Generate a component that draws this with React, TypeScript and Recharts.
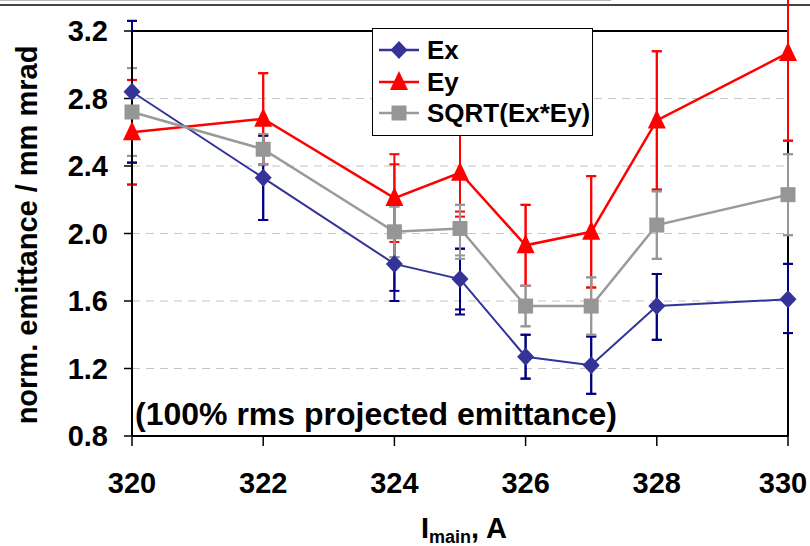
import React from 'react';
import {
  LineChart,
  Line,
  XAxis,
  YAxis,
  CartesianGrid,
  ErrorBar,
  ReferenceLine,
} from 'recharts';

const FONT = '"Liberation Sans", Arial, Helvetica, sans-serif';

// main coil current, A
const currents = [320, 322, 324, 325, 326, 327, 328, 330];

// normalized emittance, mm mrad
const ex = [2.84, 2.33, 1.82, 1.73, 1.27, 1.22, 1.57, 1.61];
const ey = [2.6, 2.68, 2.21, 2.36, 1.93, 2.01, 2.67, 3.07];
const sq = [2.72, 2.5, 2.01, 2.03, 1.57, 1.57, 2.05, 2.23];

// error bars [minus, plus]; the second set gives the inner caps
const exErr = [[0.42, 0.42], [0.25, 0.25], [0.22, 0.22], [0.21, 0.18], [0.13, 0.13], [0.17, 0.17], [0.2, 0.19], [0.2, 0.21]];
const exErr2 = [[0.42, 0.42], [0.25, 0.25], [0.16, 0.16], [0.18, 0.18], [0.13, 0.13], [0.17, 0.17], [0.2, 0.19], [0.2, 0.21]];
const eyErr = [[0.31, 0.31], [0.27, 0.27], [0.26, 0.26], [0.26, 0.26], [0.24, 0.24], [0.33, 0.33], [0.41, 0.41], [0.52, 0.52]];
const eyErr2 = [[0.31, 0.31], [0.27, 0.27], [0.2, 0.2], [0.23, 0.23], [0.24, 0.24], [0.33, 0.33], [0.41, 0.41], [0.52, 0.52]];
const sqErr = [[0.26, 0.26], [0.09, 0.09], [0.15, 0.15], [0.18, 0.14], [0.12, 0.12], [0.17, 0.17], [0.2, 0.2], [0.24, 0.24]];
const sqErr2 = [[0.26, 0.26], [0.09, 0.09], [0.15, 0.15], [0.16, 0.14], [0.12, 0.12], [0.17, 0.17], [0.2, 0.2], [0.24, 0.24]];

const xTicks = [320, 322, 324, 326, 328, 330];
const yTicks = [0.8, 1.2, 1.6, 2.0, 2.4, 2.8, 3.2];

const data = currents.map((c, i) => ({
  current: c,
  ex: ex[i],
  ey: ey[i],
  sq: sq[i],
  exErr: exErr[i],
  exErr2: exErr2[i],
  eyErr: eyErr[i],
  eyErr2: eyErr2[i],
  sqErr: sqErr[i],
  sqErr2: sqErr2[i],
}));

const BLUE = '#333399';
const NAVY = '#000080';
const RED = '#ff0000';
const GREY_LINE = '#9a9a9a';
const GREY = '#969696';

const diamond = (cx: number, cy: number) =>
  `M${cx},${cy - 9} L${cx + 8.5},${cy} L${cx},${cy + 9} L${cx - 8.5},${cy} Z`;
const triangle = (cx: number, cy: number) =>
  `M${cx},${cy - 11} L${cx + 9},${cy + 8} L${cx - 9},${cy + 8} Z`;
const square = (cx: number, cy: number) =>
  `M${cx - 7.5},${cy - 7.5} h15 v15 h-15 Z`;

const makeDot = (shape: (cx: number, cy: number) => string, fill: string) => (props: any) => {
  const { cx, cy, index } = props;
  if (cx == null || cy == null) return <g key={index} />;
  return <path key={index} d={shape(cx, cy)} fill={fill} />;
};

const legendItems = [
  { label: 'Ex', stroke: BLUE, fill: BLUE, shape: diamond },
  { label: 'Ey', stroke: RED, fill: RED, shape: triangle },
  { label: 'SQRT(Ex*Ey)', stroke: GREY_LINE, fill: GREY, shape: square },
];

const tickStyle = { fill: '#000', fontSize: 29, fontWeight: 700, fontFamily: FONT };

// x tick label; the last one is nudged left so it stays on the page
const XTick = (props: any) => {
  const { x, y, payload } = props;
  return (
    <text
      x={Math.min(x, 783)}
      y={y}
      dy="0.71em"
      textAnchor="middle"
      fill="#000"
      fontSize={29}
      fontWeight={700}
      fontFamily={FONT}
    >
      {payload.value}
    </text>
  );
};

export default function App() {
  return (
    <div
      style={{
        position: 'absolute',
        left: 0,
        top: 0,
        width: 810,
        height: 546,
        background: '#fff',
        overflow: 'hidden',
      }}
    >
      {/* the y range is pinned, but the error bars may still run past the frame */}
      <style>{'.recharts-line, .recharts-line * { clip-path: none !important; }'}</style>

      {/* page rules above the figure */}
      <div style={{ position: 'absolute', left: 0, top: 0, width: 611, height: 1, background: '#b8b8b8' }} />
      <div style={{ position: 'absolute', left: 0, top: 4, width: 810, height: 2, background: '#444' }} />

      <LineChart
        width={810}
        height={546}
        data={data}
        margin={{ top: 31, right: 22, bottom: 0, left: 0 }}
      >
        <CartesianGrid vertical={false} stroke="#c4c4c4" strokeDasharray="8 6" strokeWidth={1.2} />
        <XAxis
          dataKey="current"
          type="number"
          domain={[320, 330]}
          ticks={xTicks}
          height={110}
          tickSize={10}
          tickMargin={26}
          tick={<XTick />}
          axisLine={{ stroke: '#000', strokeWidth: 2 }}
          tickLine={{ stroke: '#000', strokeWidth: 1.5 }}
        />
        <YAxis
          type="number"
          domain={[0.8, 3.2]}
          allowDataOverflow
          ticks={yTicks}
          tickFormatter={(v: number) => v.toFixed(1)}
          width={132}
          tickSize={8}
          tickMargin={16}
          tick={tickStyle}
          axisLine={{ stroke: '#000', strokeWidth: 2 }}
          tickLine={{ stroke: '#000', strokeWidth: 1.5 }}
        />
        <ReferenceLine y={3.2} stroke="#000" strokeWidth={2} />
        <ReferenceLine x={330} stroke="#000" strokeWidth={2} />

        <Line
          type="linear"
          dataKey="ex"
          stroke={BLUE}
          strokeWidth={2}
          dot={makeDot(diamond, BLUE)}
          activeDot={false}
          isAnimationActive={false}
        >
          <ErrorBar dataKey="exErr" direction="y" width={5} stroke={NAVY} strokeWidth={2} isAnimationActive={false} />
          <ErrorBar dataKey="exErr2" direction="y" width={5} stroke={NAVY} strokeWidth={2} isAnimationActive={false} />
        </Line>
        <Line
          type="linear"
          dataKey="ey"
          stroke={RED}
          strokeWidth={2.5}
          dot={makeDot(triangle, RED)}
          activeDot={false}
          isAnimationActive={false}
        >
          <ErrorBar dataKey="eyErr" direction="y" width={5} stroke={RED} strokeWidth={2} isAnimationActive={false} />
          <ErrorBar dataKey="eyErr2" direction="y" width={5} stroke={RED} strokeWidth={2} isAnimationActive={false} />
        </Line>
        <Line
          type="linear"
          dataKey="sq"
          stroke={GREY_LINE}
          strokeWidth={2.5}
          dot={makeDot(square, GREY)}
          activeDot={false}
          isAnimationActive={false}
        >
          <ErrorBar dataKey="sqErr" direction="y" width={5} stroke={GREY} strokeWidth={2} isAnimationActive={false} />
          <ErrorBar dataKey="sqErr2" direction="y" width={5} stroke={GREY} strokeWidth={2} isAnimationActive={false} />
        </Line>
      </LineChart>

      {/* axis titles and note */}
      <svg
        width={810}
        height={546}
        style={{ position: 'absolute', left: 0, top: 0, pointerEvents: 'none' }}
      >
        <text
          transform="translate(37,235) rotate(-90)"
          textAnchor="middle"
          fontFamily={FONT}
          fontWeight={700}
          fontSize={29}
          fill="#000"
        >
          norm. emittance / mm mrad
        </text>
        <text x={421} y={538} fontFamily={FONT} fontWeight={700} fontSize={29} fill="#000">
          <tspan>I</tspan>
          <tspan fontSize={18} dy={5}>main</tspan>
          <tspan dy={-5}>, A</tspan>
        </text>
        <text x={135} y={425} fontFamily={FONT} fontWeight={700} fontSize={32} fill="#000">
          (100% rms projected emittance)
        </text>
      </svg>

      {/* legend */}
      <div
        style={{
          position: 'absolute',
          left: 372,
          top: 28,
          width: 219,
          height: 101,
          border: '1px solid #000',
          background: '#fff',
          paddingTop: 5,
          boxSizing: 'content-box',
        }}
      >
        {legendItems.map((it) => (
          <div key={it.label} style={{ display: 'flex', alignItems: 'center', height: 31.7 }}>
            <svg width={54} height={26} style={{ flex: 'none' }}>
              <line x1={6} y1={13} x2={46} y2={13} stroke={it.stroke} strokeWidth={2.5} />
              <path d={it.shape(26, 13)} fill={it.fill} />
            </svg>
            <span
              style={{
                fontFamily: FONT,
                fontWeight: 700,
                fontSize: 26,
                color: '#000',
                lineHeight: '26px',
                whiteSpace: 'nowrap',
              }}
            >
              {it.label}
            </span>
          </div>
        ))}
      </div>
    </div>
  );
}
